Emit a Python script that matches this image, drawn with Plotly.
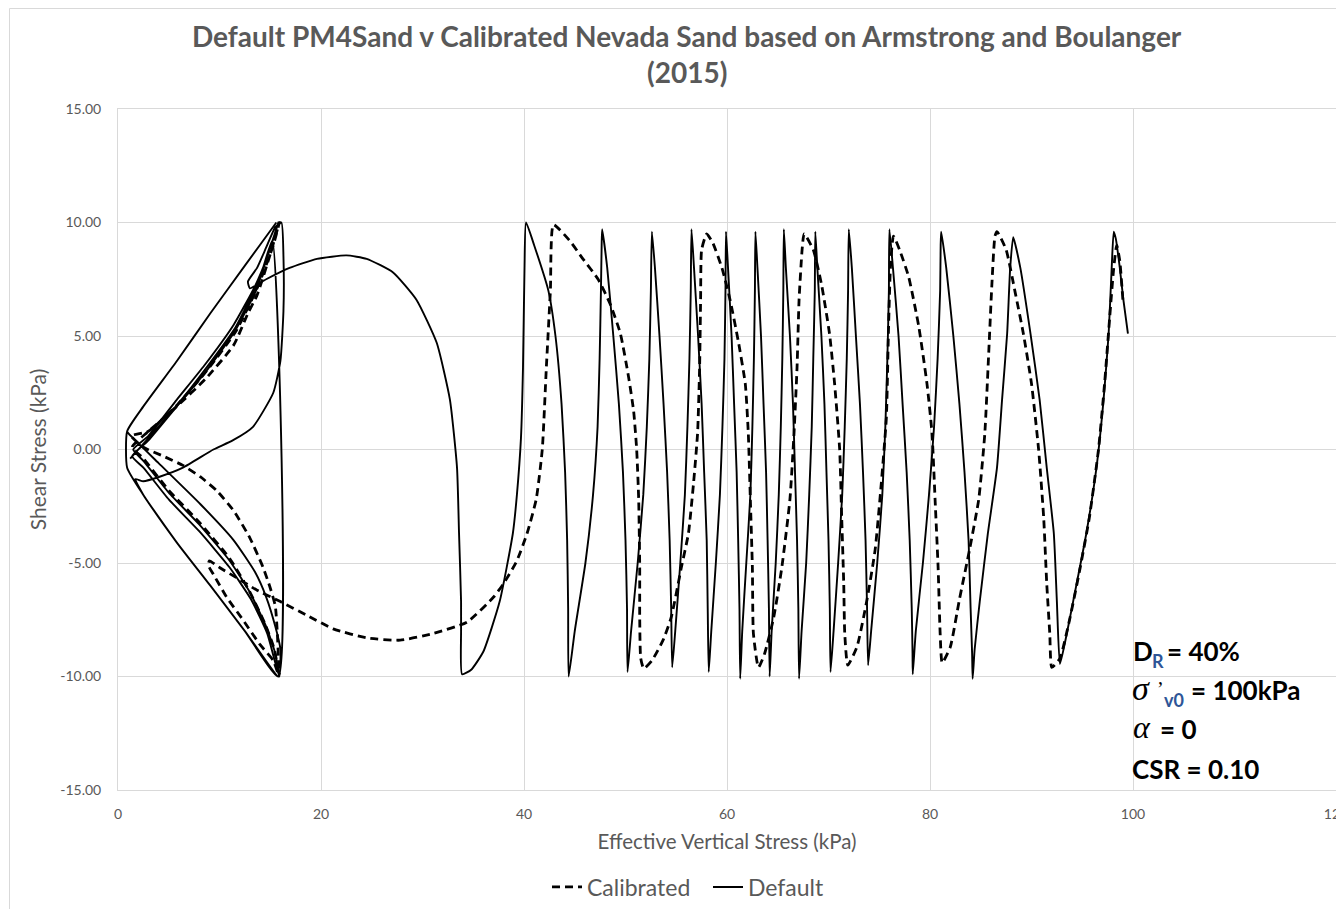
import plotly.graph_objects as go

# ---------------- data ----------------
x_ticks = [0, 20, 40, 60, 80, 100, 120]
x_tick_labels = ["0", "20", "40", "60", "80", "100", "120"]
y_ticks = [-15, -10, -5, 0, 5, 10, 15]
y_tick_labels = ["-15.00", "-10.00", "-5.00", "0.00", "5.00", "10.00", "15.00"]

# Default PM4Sand (solid)
default_x = [
    99.5, 99.05, 98.7, 98.3, 98.1,
    97.9, 97.6, 97.1, 96.4, 95.4, 94.1, 93.3, 92.8,
    92.5, 92.2, 91.5, 90.8, 89.9, 88.9, 88.2,
    87.9, 87.6, 87.1, 86.6, 85.7, 84.9, 84.4, 84.2,
    84.15, 84.0, 83.8, 83.4, 82.9, 82.3, 81.6, 81.1,
    81.05, 81.0, 80.75, 80.4, 79.9, 79.3, 78.6, 78.3,
    78.28, 78.2, 78.0, 77.7, 77.3, 76.9, 76.35, 76.0,
    75.95, 75.8, 75.6, 75.3, 74.8, 74.2, 73.9,
    73.8, 73.65, 73.4, 73.1, 72.7, 72.3, 72.0,
    71.93, 71.8, 71.6, 71.35, 70.95, 70.5, 70.2,
    70.13, 70.0, 69.8, 69.6, 69.3, 68.9, 68.7,
    68.65, 68.5, 68.35, 68.1, 67.8, 67.35, 67.1,
    67.03, 66.9, 66.7, 66.5, 66.2, 65.8, 65.6,
    65.55, 65.45, 65.3, 65.1, 64.8, 64.4, 64.2,
    64.13, 64.0, 63.85, 63.6, 63.35, 63.0, 62.8,
    62.75, 62.65, 62.5, 62.3, 61.9, 61.5, 61.3,
    61.23, 61.1, 60.95, 60.7, 60.45, 60.1, 59.9,
    59.85, 59.75, 59.55, 59.3, 58.9, 58.45, 58.2,
    58.1, 58.0, 57.75, 57.5, 57.15, 56.75, 56.5,
    56.43, 56.3, 56.1, 55.85, 55.4, 54.9, 54.6,
    54.5, 54.35, 54.1, 53.75, 53.35, 52.9, 52.6,
    52.5, 52.35, 52.1, 51.75, 51.2, 50.55, 50.2,
    50.15, 50.0, 49.75, 49.35, 48.8, 48.2, 47.7,
    47.65, 47.58, 47.45, 47.25, 46.8, 46.05, 45.0, 44.4,
    44.35, 44.25, 44.05, 43.7, 43.1, 42.4, 41.0, 40.2,
    40.05, 39.9, 39.7, 39.3, 38.9, 37.6, 36.0, 34.8, 33.9,
    33.8, 33.8, 33.6, 33.4, 32.7, 31.4, 29.4, 27.1, 24.5, 22.5, 19.6, 16.9, 14.6,
    13.0, 12.8, 13.7, 14.6, 15.5, 16.1,
    16.3, 16.3, 16.0, 15.3, 13.3, 11.3, 9.4, 6.4, 4.1, 2.5, 1.7,
    2.5, 5.8, 9.1, 12.5, 15.8,
    15.5, 14.6, 13.0, 11.0, 8.0, 5.0, 2.5, 1.5,
    3.0, 5.8, 8.5, 11.4, 13.5, 14.8, 15.8,
    15.0, 13.6, 11.5, 8.6, 5.8, 3.0, 1.4,
    2.5, 5.0, 8.0, 11.0, 13.1, 14.7, 15.9,
    16.0, 15.5, 14.6, 13.5, 11.4, 8.1, 4.0, 1.5,
    0.9, 2.5, 5.8, 9.1, 12.5, 15.6,
    12.5, 9.1, 5.8, 2.5, 0.9,
    0.9, 2.5, 5.8, 9.1, 12.5, 15.8,
    15.2, 14.0, 11.6, 8.7, 5.9, 3.0, 1.2,
]
default_y = [
    5.1, 6.6, 8.0, 9.3, 9.6,
    8.0, 5.1, 2.2, -0.8, -3.7, -6.7, -8.5, -9.45,
    -6.7, -3.7, -0.8, 2.2, 5.1, 8.0, 9.35,
    8.0, 5.1, 2.2, -0.8, -3.7, -6.7, -8.8, -10.1,
    -9.0, -7.0, -4.0, -1.0, 2.0, 5.0, 8.0, 9.6,
    9.0, 7.0, 4.0, 1.0, -2.0, -5.0, -8.0, -9.9,
    -9.0, -7.0, -4.0, -1.0, 2.0, 5.0, 8.0, 9.7,
    7.0, 4.0, 1.0, -2.0, -5.0, -8.0, -9.5,
    -7.0, -4.0, -1.0, 2.0, 5.0, 8.0, 9.7,
    7.0, 4.0, 1.0, -2.0, -5.0, -8.0, -9.8,
    -7.0, -4.0, -1.0, 2.0, 5.0, 8.0, 9.6,
    7.0, 4.0, 1.0, -2.0, -5.0, -8.0, -10.1,
    -7.0, -4.0, -1.0, 2.0, 5.0, 8.0, 9.7,
    7.0, 4.0, 1.0, -2.0, -5.0, -8.0, -10.0,
    -7.0, -4.0, -1.0, 2.0, 5.0, 8.0, 9.6,
    7.0, 4.0, 1.0, -2.0, -5.0, -8.0, -10.1,
    -7.0, -4.0, -1.0, 2.0, 5.0, 8.0, 9.6,
    7.0, 4.0, 1.0, -2.0, -5.0, -8.0, -9.8,
    -7.0, -4.0, -1.0, 2.0, 5.0, 8.0, 9.7,
    7.0, 4.0, 1.0, -2.0, -5.0, -8.0, -9.6,
    -7.0, -4.0, -1.0, 2.0, 5.0, 8.0, 9.6,
    7.0, 4.0, 1.0, -2.0, -5.0, -8.0, -9.8,
    -7.0, -4.0, -1.0, 2.0, 5.0, 8.0, 9.7,
    9.0, 7.0, 4.0, 1.0, -2.0, -5.0, -8.0, -10.0,
    -7.0, -4.0, -1.0, 2.0, 5.0, 7.0, 9.0, 10.0,
    8.0, 3.6, 0.5, -2.0, -3.7, -6.7, -8.9, -9.7, -9.9,
    -8.0, -6.7, -3.7, -0.8, 2.2, 4.7, 6.6, 7.8, 8.4, 8.55, 8.4, 8.0, 7.5,
    7.1, 7.4, 8.0, 8.9, 9.8, 10.0,
    8.5, 6.1, 3.9, 2.5, 1.0, 0.4, 0.0, -0.8, -1.2, -1.4, -1.3,
    -2.0, -4.1, -6.0, -8.0, -10.0,
    -9.0, -7.8, -6.3, -4.9, -3.3, -1.9, -0.5, 0.0,
    0.6, 2.2, 3.7, 5.5, 7.2, 8.6, 10.0,
    8.9, 7.0, 5.2, 3.4, 1.9, 0.4, -0.3,
    -0.8, -2.2, -3.6, -5.2, -6.6, -8.1, -10.0,
    -8.8, -7.8, -6.5, -5.4, -4.0, -2.4, -0.6, 0.5,
    0.8, 1.9, 3.9, 6.0, 8.1, 10.0,
    8.1, 6.0, 3.9, 1.9, 0.8,
    -0.8, -2.0, -4.1, -6.0, -8.0, -10.0,
    9.2, 7.6, 5.4, 3.6, 2.0, 0.5, -0.4,
]

# Calibrated Nevada Sand (dashed)
calibrated_x = [
    99.0, 98.7, 98.4,
    98.1, 97.7, 97.2, 96.6, 95.7, 94.8, 93.8, 92.8, 92.0,
    91.8, 91.5, 91.2, 90.7, 90.0, 89.2, 88.4, 87.5, 86.6,
    86.4, 86.1, 85.8, 85.4, 84.8, 83.9, 82.9, 82.0, 81.2,
    81.0, 80.8, 80.5, 80.2, 79.7, 78.9, 77.9, 77.0, 76.4,
    76.1, 75.9, 75.7, 75.2, 74.6, 73.8, 72.8, 71.9,
    71.6, 71.5, 71.3, 71.1, 70.6, 70.1, 69.3, 68.5, 67.6,
    67.4, 67.1, 66.9, 66.6, 66.2, 65.4, 64.6, 63.7, 63.1,
    62.6, 62.5, 62.3, 62.1, 61.8, 61.1, 60.3, 59.5, 58.6, 58.0,
    57.5, 57.4, 57.3, 57.1, 56.7, 56.2, 55.5, 54.5, 53.7, 52.6, 51.8,
    51.5, 51.4, 51.4, 51.3, 51.1, 50.8, 50.3, 49.5, 48.5, 47.3, 45.8, 44.5, 42.9,
    42.6, 42.2, 41.8, 41.2, 40.3, 39.3, 38.0, 37.0, 34.4, 31.1, 27.8, 24.5, 21.2,
    18.6, 16.0, 13.7, 11.5, 10.0, 9.0,
    8.9, 9.4, 10.7, 12.3, 14.0, 15.3, 15.8,
    15.4, 14.5, 12.9, 11.0, 8.0, 5.0, 2.5, 1.4,
    3.0, 5.8, 8.6, 11.4, 12.8, 13.7, 15.0, 15.9,
    15.3, 13.8, 11.6, 8.8, 5.9, 3.0, 1.3,
    2.5, 4.5, 6.4, 8.1, 9.7, 11.4, 13.0, 14.3, 15.0, 15.5, 15.7, 15.8, 15.9,
]
calibrated_y = [
    6.6, 8.3, 9.0,
    8.0, 5.8, 2.9, 0.0, -3.0, -5.2, -7.4, -9.2, -9.6,
    -8.1, -5.9, -3.0, 0.0, 2.9, 5.1, 6.9, 8.8, 9.6,
    9.4, 7.3, 4.4, 0.7, -2.2, -4.4, -6.6, -8.7, -9.4,
    -8.1, -5.2, -2.2, 0.7, 2.9, 5.4, 7.6, 8.8, 9.4,
    8.0, 5.1, 1.4, -1.5, -4.4, -6.6, -8.7, -9.5,
    -8.1, -5.9, -3.0, 0.0, 2.9, 5.1, 7.3, 8.8, 9.5,
    8.8, 6.6, 3.6, 0.7, -2.2, -5.2, -7.4, -9.0, -9.6,
    -8.1, -5.2, -2.2, 0.7, 2.9, 4.8, 6.6, 8.0, 9.1, 9.5,
    8.8, 6.6, 3.6, 0.7, -1.5, -3.7, -5.2, -7.4, -8.4, -9.3, -9.65,
    -9.2, -7.4, -5.2, -2.2, 0.0, 1.7, 3.2, 5.1, 6.4, 7.5, 8.4, 9.2, 9.9,
    7.0, 3.6, 0.0, -2.2, -3.7, -4.9, -5.9, -6.5, -7.6, -8.1, -8.4, -8.3, -7.9,
    -7.3, -6.7, -6.2, -5.6, -5.2, -4.9,
    -5.1, -5.5, -6.5, -7.5, -8.6, -9.3, -9.9,
    -8.8, -7.7, -6.2, -4.8, -3.2, -1.8, -0.4, 0.1,
    0.8, 1.9, 3.1, 4.6, 6.0, 6.8, 8.6, 10.0,
    9.0, 7.2, 5.2, 3.5, 2.0, 0.8, 0.6,
    0.1, -0.3, -0.7, -1.2, -1.8, -2.7, -3.9, -5.2, -6.1, -6.9, -8.1, -9.1, -9.9,
]

title_line1 = "Default PM4Sand v Calibrated Nevada Sand based on Armstrong and Boulanger"
title_line2 = "(2015)"
x_title = "Effective Vertical Stress (kPa)"
y_title = "Shear Stress (kPa)"

# ---------------- figure ----------------
# The page body has an 8px margin, so the figure is made 8px smaller each way
OFF = 8
FW, FH = 1344 - OFF, 909 - OFF
L, T = 118 - OFF, 109 - OFF          # plot area left/top in figure coords
R = FW - (1336 - OFF)                 # plot right edge at page x=1336
B = FH - (790 - OFF)                  # plot bottom at page y=790
PW, PH = FW - L - R, FH - T - B


def px(page_x):
    return (page_x - OFF - L) / PW


def py(page_y):
    return (FH - B - (page_y - OFF)) / PH


FONT = "Lato, Calibri, Carlito, sans-serif"
SERIF = "Liberation Serif, Times New Roman, serif"
GREY = "#595959"
SUBBLUE = "#2E5597"

fig = go.Figure()
fig.add_trace(go.Scatter(
    x=calibrated_x, y=calibrated_y, mode="lines", name="Calibrated",
    line=dict(color="black", width=2.8, dash="8px,5px", shape="spline", smoothing=0.5),
))
fig.add_trace(go.Scatter(
    x=default_x, y=default_y, mode="lines", name="Default",
    line=dict(color="black", width=1.9, shape="spline", smoothing=0.5),
))

fig.update_layout(
    width=FW, height=FH,
    margin=dict(l=L, r=R, t=T, b=B, pad=0, autoexpand=False),
    paper_bgcolor="white", plot_bgcolor="white",
    font=dict(family=FONT, color=GREY, size=14),
    showlegend=True,
    legend=dict(orientation="h", x=px(547), y=py(887), xanchor="left", yanchor="middle",
                entrywidth=116, entrywidthmode="pixels",
                font=dict(family=FONT, size=23, color=GREY), bgcolor="rgba(0,0,0,0)"),
    xaxis=dict(range=[0, 120], tickvals=x_ticks, ticktext=x_tick_labels,
               showgrid=True, gridcolor="#D9D9D9", gridwidth=1, zeroline=False,
               showline=True, linecolor="#D9D9D9", mirror=True, ticks="",
               ticklabelstandoff=11, ticklabeloverflow="allow",
               tickfont=dict(family=FONT, size=14, color=GREY),
               title=dict(text=x_title, font=dict(family=FONT, size=20.5, color=GREY), standoff=13)),
    yaxis=dict(range=[-15, 15], tickvals=y_ticks, ticktext=y_tick_labels,
               showgrid=True, gridcolor="#D9D9D9", gridwidth=1, zeroline=False,
               showline=True, linecolor="#D9D9D9", mirror=True, ticks="",
               ticklabelstandoff=13, ticklabeloverflow="allow",
               tickfont=dict(family=FONT, size=14, color=GREY),
               title=dict(text=y_title, font=dict(family=FONT, size=21, color=GREY), standoff=7)),
)

# outer chart frame
fig.add_shape(type="rect", xref="paper", yref="paper",
              x0=px(9.5), x1=px(1352), y0=py(916), y1=py(8.5),
              line=dict(color="#D9D9D9", width=1), layer="below")


def note(text, page_x, page_y, size, color="black", family=FONT, weight="bold",
         style="normal", xanchor="left"):
    fig.add_annotation(text=text, xref="paper", yref="paper", x=px(page_x), y=py(page_y),
                       xanchor=xanchor, yanchor="middle", showarrow=False,
                       font=dict(family=family, size=size, color=color, weight=weight, style=style))


# title
note(title_line1, 686.5, 36, 28, color=GREY, xanchor="center")
note(title_line2, 687, 72, 28, color=GREY, xanchor="center")

# parameter block (each piece placed separately)
note("D", 1131, 651, 26)
note("R", 1150, 661, 18, color=SUBBLUE)
note("= 40%", 1165, 651, 26)

note("σ", 1130, 688, 34, family=SERIF, weight="normal", style="italic")
note("’", 1155, 689, 20, family=SERIF, weight="normal")
note("v0", 1162, 700, 18, color=SUBBLUE)
note("= 100kPa", 1189, 690, 26)

note("α", 1131, 727, 32, family=SERIF, weight="normal", style="italic")
note("= 0", 1158, 729, 26)

note("CSR = 0.10", 1130, 769, 26)

fig.write_html("out.html")
